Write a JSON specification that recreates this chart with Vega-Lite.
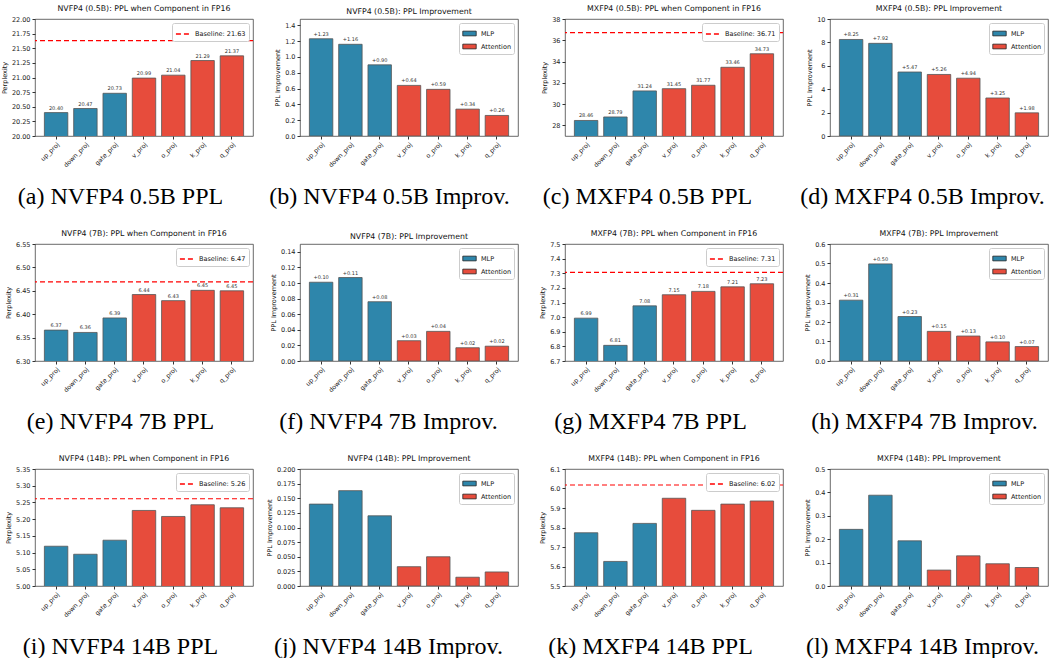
{
"$schema": "https://vega.github.io/schema/vega-lite/v6.json",
"background": "white",
"padding": {"left": 0, "top": 4, "right": 5, "bottom": 0},
"datasets": {
"bars": [
{"panel":"a","component":"up_proj","group":"MLP","value":20.40},
{"panel":"a","component":"down_proj","group":"MLP","value":20.47},
{"panel":"a","component":"gate_proj","group":"MLP","value":20.73},
{"panel":"a","component":"v_proj","group":"Attention","value":20.99},
{"panel":"a","component":"o_proj","group":"Attention","value":21.04},
{"panel":"a","component":"k_proj","group":"Attention","value":21.29},
{"panel":"a","component":"q_proj","group":"Attention","value":21.37},
{"panel":"b","component":"up_proj","group":"MLP","value":1.23},
{"panel":"b","component":"down_proj","group":"MLP","value":1.16},
{"panel":"b","component":"gate_proj","group":"MLP","value":0.90},
{"panel":"b","component":"v_proj","group":"Attention","value":0.64},
{"panel":"b","component":"o_proj","group":"Attention","value":0.59},
{"panel":"b","component":"k_proj","group":"Attention","value":0.34},
{"panel":"b","component":"q_proj","group":"Attention","value":0.26},
{"panel":"c","component":"up_proj","group":"MLP","value":28.46},
{"panel":"c","component":"down_proj","group":"MLP","value":28.79},
{"panel":"c","component":"gate_proj","group":"MLP","value":31.24},
{"panel":"c","component":"v_proj","group":"Attention","value":31.45},
{"panel":"c","component":"o_proj","group":"Attention","value":31.77},
{"panel":"c","component":"k_proj","group":"Attention","value":33.46},
{"panel":"c","component":"q_proj","group":"Attention","value":34.73},
{"panel":"d","component":"up_proj","group":"MLP","value":8.25},
{"panel":"d","component":"down_proj","group":"MLP","value":7.92},
{"panel":"d","component":"gate_proj","group":"MLP","value":5.47},
{"panel":"d","component":"v_proj","group":"Attention","value":5.26},
{"panel":"d","component":"o_proj","group":"Attention","value":4.94},
{"panel":"d","component":"k_proj","group":"Attention","value":3.25},
{"panel":"d","component":"q_proj","group":"Attention","value":1.98},
{"panel":"e","component":"up_proj","group":"MLP","value":6.366},
{"panel":"e","component":"down_proj","group":"MLP","value":6.361},
{"panel":"e","component":"gate_proj","group":"MLP","value":6.392},
{"panel":"e","component":"v_proj","group":"Attention","value":6.442},
{"panel":"e","component":"o_proj","group":"Attention","value":6.429},
{"panel":"e","component":"k_proj","group":"Attention","value":6.451},
{"panel":"e","component":"q_proj","group":"Attention","value":6.450},
{"panel":"f","component":"up_proj","group":"MLP","value":0.101},
{"panel":"f","component":"down_proj","group":"MLP","value":0.107},
{"panel":"f","component":"gate_proj","group":"MLP","value":0.076},
{"panel":"f","component":"v_proj","group":"Attention","value":0.026},
{"panel":"f","component":"o_proj","group":"Attention","value":0.038},
{"panel":"f","component":"k_proj","group":"Attention","value":0.017},
{"panel":"f","component":"q_proj","group":"Attention","value":0.019},
{"panel":"g","component":"up_proj","group":"MLP","value":6.993},
{"panel":"g","component":"down_proj","group":"MLP","value":6.807},
{"panel":"g","component":"gate_proj","group":"MLP","value":7.077},
{"panel":"g","component":"v_proj","group":"Attention","value":7.153},
{"panel":"g","component":"o_proj","group":"Attention","value":7.176},
{"panel":"g","component":"k_proj","group":"Attention","value":7.207},
{"panel":"g","component":"q_proj","group":"Attention","value":7.228},
{"panel":"h","component":"up_proj","group":"MLP","value":0.312},
{"panel":"h","component":"down_proj","group":"MLP","value":0.498},
{"panel":"h","component":"gate_proj","group":"MLP","value":0.228},
{"panel":"h","component":"v_proj","group":"Attention","value":0.152},
{"panel":"h","component":"o_proj","group":"Attention","value":0.128},
{"panel":"h","component":"k_proj","group":"Attention","value":0.098},
{"panel":"h","component":"q_proj","group":"Attention","value":0.074},
{"panel":"i","component":"up_proj","group":"MLP","value":5.119},
{"panel":"i","component":"down_proj","group":"MLP","value":5.095},
{"panel":"i","component":"gate_proj","group":"MLP","value":5.137},
{"panel":"i","component":"v_proj","group":"Attention","value":5.226},
{"panel":"i","component":"o_proj","group":"Attention","value":5.208},
{"panel":"i","component":"k_proj","group":"Attention","value":5.243},
{"panel":"i","component":"q_proj","group":"Attention","value":5.234},
{"panel":"j","component":"up_proj","group":"MLP","value":0.140},
{"panel":"j","component":"down_proj","group":"MLP","value":0.163},
{"panel":"j","component":"gate_proj","group":"MLP","value":0.120},
{"panel":"j","component":"v_proj","group":"Attention","value":0.033},
{"panel":"j","component":"o_proj","group":"Attention","value":0.050},
{"panel":"j","component":"k_proj","group":"Attention","value":0.015},
{"panel":"j","component":"q_proj","group":"Attention","value":0.024},
{"panel":"k","component":"up_proj","group":"MLP","value":5.773},
{"panel":"k","component":"down_proj","group":"MLP","value":5.626},
{"panel":"k","component":"gate_proj","group":"MLP","value":5.821},
{"panel":"k","component":"v_proj","group":"Attention","value":5.950},
{"panel":"k","component":"o_proj","group":"Attention","value":5.888},
{"panel":"k","component":"k_proj","group":"Attention","value":5.920},
{"panel":"k","component":"q_proj","group":"Attention","value":5.936},
{"panel":"l","component":"up_proj","group":"MLP","value":0.242},
{"panel":"l","component":"down_proj","group":"MLP","value":0.388},
{"panel":"l","component":"gate_proj","group":"MLP","value":0.193},
{"panel":"l","component":"v_proj","group":"Attention","value":0.068},
{"panel":"l","component":"o_proj","group":"Attention","value":0.129},
{"panel":"l","component":"k_proj","group":"Attention","value":0.095},
{"panel":"l","component":"q_proj","group":"Attention","value":0.079}
],
"base": [
{"panel":"a","value":21.63,"label":"Baseline: 21.63"},
{"panel":"c","value":36.71,"label":"Baseline: 36.71"},
{"panel":"e","value":6.469,"label":"Baseline: 6.47"},
{"panel":"g","value":7.306,"label":"Baseline: 7.31"},
{"panel":"i","value":5.261,"label":"Baseline: 5.26"},
{"panel":"k","value":6.018,"label":"Baseline: 6.02"}
]
},
"columns": 4,
"bounds": "flush",
"spacing": {"row": 108, "column": 47},
"resolve": {"scale": {"x": "independent", "y": "independent", "color": "independent", "strokeDash": "independent"}, "axis": {"x": "independent", "y": "independent"}, "legend": {"color": "independent", "strokeDash": "independent"}},
"concat": [
{"width":218,"height":117,"title":"NVFP4 (0.5B): PPL when Component in FP16",
 "encoding":{"y":{"field":"value","type":"quantitative","scale":{"domain":[20,22],"nice":false,"zero":false},"axis":{"title":"Perplexity","values":[20,20.25,20.5,20.75,21,21.25,21.5,21.75,22],"format":".2f"}}},
 "layer":[
 {"data":{"name":"bars"},"transform":[{"filter":"datum.panel==='a'"}],
  "encoding":{"x":{"field":"component","type":"nominal","scale":{"domain":["up_proj","down_proj","gate_proj","v_proj","o_proj","k_proj","q_proj"],"paddingInner":0.2,"paddingOuter":0.32},"axis":{"title":"(a) NVFP4 0.5B PPL","titleX":85}}},
  "layer":[
   {"mark":{"type":"bar","stroke":"#555","strokeWidth":0.8,"clip":true},"encoding":{"color":{"field":"group","type":"nominal","scale":{"domain":["MLP","Attention"],"range":["#2E86AB","#E74C3C"]},"legend":null}}},
   {"mark":{"type":"text","baseline":"bottom","dy":-2,"fontSize":5,"color":"#333","font":"DejaVu Sans"},"encoding":{"text":{"field":"value","format":".2f"}}}
  ]},
 {"data":{"name":"base"},"transform":[{"filter":"datum.panel==='a'"}],"mark":{"type":"rule","color":"red","strokeWidth":1.2},
  "encoding":{"strokeDash":{"field":"label","type":"nominal","scale":{"range":[[5,3]]},"legend":{"title":null,"symbolType":"stroke","symbolStrokeColor":"red","symbolStrokeWidth":1.5,"symbolSize":200}}}}
]},
{"width":218,"height":117,"title":"NVFP4 (0.5B): PPL Improvement",
 "data":{"name":"bars"},"transform":[{"filter":"datum.panel==='b'"}],
 "encoding":{"x":{"field":"component","type":"nominal","scale":{"domain":["up_proj","down_proj","gate_proj","v_proj","o_proj","k_proj","q_proj"],"paddingInner":0.2,"paddingOuter":0.32},"axis":{"title":"(b) NVFP4 0.5B Improv.","titleX":89}},
   "y":{"field":"value","type":"quantitative","scale":{"domain":[0,1.48],"nice":false},"axis":{"title":"PPL Improvement","values":[0,0.2,0.4,0.6,0.8,1.0,1.2,1.4],"format":".1f"}}},
 "layer":[
 {"mark":{"type":"bar","stroke":"#555","strokeWidth":0.8,"clip":true},
  "encoding":{"color":{"field":"group","type":"nominal","scale":{"domain":["MLP","Attention"],"range":["#2E86AB","#E74C3C"]},"legend":{"title":null,"symbolType":"M-1,-0.35H1V0.35H-1Z","symbolSize":180,"symbolStrokeColor":"#222","symbolStrokeWidth":0.8}}}},
 {"mark":{"type":"text","baseline":"bottom","dy":-2,"fontSize":5,"color":"#333","font":"DejaVu Sans"},"encoding":{"text":{"field":"value","format":"+.2f"}}}
]},
{"width":218,"height":117,"title":"MXFP4 (0.5B): PPL when Component in FP16",
 "encoding":{"y":{"field":"value","type":"quantitative","scale":{"domain":[27,38],"nice":false,"zero":false},"axis":{"title":"Perplexity","values":[28,30,32,34,36,38],"format":"d"}}},
 "layer":[
 {"data":{"name":"bars"},"transform":[{"filter":"datum.panel==='c'"}],
  "encoding":{"x":{"field":"component","type":"nominal","scale":{"domain":["up_proj","down_proj","gate_proj","v_proj","o_proj","k_proj","q_proj"],"paddingInner":0.2,"paddingOuter":0.32},"axis":{"title":"(c) MXFP4 0.5B PPL","titleX":82}}},
  "layer":[
   {"mark":{"type":"bar","stroke":"#555","strokeWidth":0.8,"clip":true},"encoding":{"color":{"field":"group","type":"nominal","scale":{"domain":["MLP","Attention"],"range":["#2E86AB","#E74C3C"]},"legend":null}}},
   {"mark":{"type":"text","baseline":"bottom","dy":-2,"fontSize":5,"color":"#333","font":"DejaVu Sans"},"encoding":{"text":{"field":"value","format":".2f"}}}
  ]},
 {"data":{"name":"base"},"transform":[{"filter":"datum.panel==='c'"}],"mark":{"type":"rule","color":"red","strokeWidth":1.2},
  "encoding":{"strokeDash":{"field":"label","type":"nominal","scale":{"range":[[5,3]]},"legend":{"title":null,"symbolType":"stroke","symbolStrokeColor":"red","symbolStrokeWidth":1.5,"symbolSize":200}}}}
]},
{"width":218,"height":117,"title":"MXFP4 (0.5B): PPL Improvement",
 "data":{"name":"bars"},"transform":[{"filter":"datum.panel==='d'"}],
 "encoding":{"x":{"field":"component","type":"nominal","scale":{"domain":["up_proj","down_proj","gate_proj","v_proj","o_proj","k_proj","q_proj"],"paddingInner":0.2,"paddingOuter":0.32},"axis":{"title":"(d) MXFP4 0.5B Improv.","titleX":92}},
   "y":{"field":"value","type":"quantitative","scale":{"domain":[0,10],"nice":false},"axis":{"title":"PPL Improvement","values":[0,2,4,6,8,10],"format":"d"}}},
 "layer":[
 {"mark":{"type":"bar","stroke":"#555","strokeWidth":0.8,"clip":true},
  "encoding":{"color":{"field":"group","type":"nominal","scale":{"domain":["MLP","Attention"],"range":["#2E86AB","#E74C3C"]},"legend":{"title":null,"symbolType":"M-1,-0.35H1V0.35H-1Z","symbolSize":180,"symbolStrokeColor":"#222","symbolStrokeWidth":0.8}}}},
 {"mark":{"type":"text","baseline":"bottom","dy":-2,"fontSize":5,"color":"#333","font":"DejaVu Sans"},"encoding":{"text":{"field":"value","format":"+.2f"}}}
]},
{"width":218,"height":117,"title":"NVFP4 (7B): PPL when Component in FP16",
 "encoding":{"y":{"field":"value","type":"quantitative","scale":{"domain":[6.3,6.55],"nice":false,"zero":false},"axis":{"title":"Perplexity","values":[6.3,6.35,6.4,6.45,6.5,6.55],"format":".2f"}}},
 "layer":[
 {"data":{"name":"bars"},"transform":[{"filter":"datum.panel==='e'"}],
  "encoding":{"x":{"field":"component","type":"nominal","scale":{"domain":["up_proj","down_proj","gate_proj","v_proj","o_proj","k_proj","q_proj"],"paddingInner":0.2,"paddingOuter":0.32},"axis":{"title":"(e) NVFP4 7B PPL","titleX":85}}},
  "layer":[
   {"mark":{"type":"bar","stroke":"#555","strokeWidth":0.8,"clip":true},"encoding":{"color":{"field":"group","type":"nominal","scale":{"domain":["MLP","Attention"],"range":["#2E86AB","#E74C3C"]},"legend":null}}},
   {"mark":{"type":"text","baseline":"bottom","dy":-2,"fontSize":5,"color":"#333","font":"DejaVu Sans"},"encoding":{"text":{"field":"value","format":".2f"}}}
  ]},
 {"data":{"name":"base"},"transform":[{"filter":"datum.panel==='e'"}],"mark":{"type":"rule","color":"red","strokeWidth":1.2},
  "encoding":{"strokeDash":{"field":"label","type":"nominal","scale":{"range":[[5,3]]},"legend":{"title":null,"symbolType":"stroke","symbolStrokeColor":"red","symbolStrokeWidth":1.5,"symbolSize":200}}}}
]},
{"width":218,"height":117,"title":"NVFP4 (7B): PPL Improvement",
 "data":{"name":"bars"},"transform":[{"filter":"datum.panel==='f'"}],
 "encoding":{"x":{"field":"component","type":"nominal","scale":{"domain":["up_proj","down_proj","gate_proj","v_proj","o_proj","k_proj","q_proj"],"paddingInner":0.2,"paddingOuter":0.32},"axis":{"title":"(f) NVFP4 7B Improv.","titleX":88}},
   "y":{"field":"value","type":"quantitative","scale":{"domain":[0,0.15],"nice":false},"axis":{"title":"PPL Improvement","values":[0,0.02,0.04,0.06,0.08,0.1,0.12,0.14],"format":".2f"}}},
 "layer":[
 {"mark":{"type":"bar","stroke":"#555","strokeWidth":0.8,"clip":true},
  "encoding":{"color":{"field":"group","type":"nominal","scale":{"domain":["MLP","Attention"],"range":["#2E86AB","#E74C3C"]},"legend":{"title":null,"symbolType":"M-1,-0.35H1V0.35H-1Z","symbolSize":180,"symbolStrokeColor":"#222","symbolStrokeWidth":0.8}}}},
 {"mark":{"type":"text","baseline":"bottom","dy":-2,"fontSize":5,"color":"#333","font":"DejaVu Sans"},"encoding":{"text":{"field":"value","format":"+.2f"}}}
]},
{"width":218,"height":117,"title":"MXFP4 (7B): PPL when Component in FP16",
 "encoding":{"y":{"field":"value","type":"quantitative","scale":{"domain":[6.7,7.5],"nice":false,"zero":false},"axis":{"title":"Perplexity","values":[6.7,6.8,6.9,7.0,7.1,7.2,7.3,7.4,7.5],"format":".1f"}}},
 "layer":[
 {"data":{"name":"bars"},"transform":[{"filter":"datum.panel==='g'"}],
  "encoding":{"x":{"field":"component","type":"nominal","scale":{"domain":["up_proj","down_proj","gate_proj","v_proj","o_proj","k_proj","q_proj"],"paddingInner":0.2,"paddingOuter":0.32},"axis":{"title":"(g) MXFP4 7B PPL","titleX":85}}},
  "layer":[
   {"mark":{"type":"bar","stroke":"#555","strokeWidth":0.8,"clip":true},"encoding":{"color":{"field":"group","type":"nominal","scale":{"domain":["MLP","Attention"],"range":["#2E86AB","#E74C3C"]},"legend":null}}},
   {"mark":{"type":"text","baseline":"bottom","dy":-2,"fontSize":5,"color":"#333","font":"DejaVu Sans"},"encoding":{"text":{"field":"value","format":".2f"}}}
  ]},
 {"data":{"name":"base"},"transform":[{"filter":"datum.panel==='g'"}],"mark":{"type":"rule","color":"red","strokeWidth":1.2},
  "encoding":{"strokeDash":{"field":"label","type":"nominal","scale":{"range":[[5,3]]},"legend":{"title":null,"symbolType":"stroke","symbolStrokeColor":"red","symbolStrokeWidth":1.5,"symbolSize":200}}}}
]},
{"width":218,"height":117,"title":"MXFP4 (7B): PPL Improvement",
 "data":{"name":"bars"},"transform":[{"filter":"datum.panel==='h'"}],
 "encoding":{"x":{"field":"component","type":"nominal","scale":{"domain":["up_proj","down_proj","gate_proj","v_proj","o_proj","k_proj","q_proj"],"paddingInner":0.2,"paddingOuter":0.32},"axis":{"title":"(h) MXFP4 7B Improv.","titleX":94}},
   "y":{"field":"value","type":"quantitative","scale":{"domain":[0,0.6],"nice":false},"axis":{"title":"PPL Improvement","values":[0,0.1,0.2,0.3,0.4,0.5,0.6],"format":".1f"}}},
 "layer":[
 {"mark":{"type":"bar","stroke":"#555","strokeWidth":0.8,"clip":true},
  "encoding":{"color":{"field":"group","type":"nominal","scale":{"domain":["MLP","Attention"],"range":["#2E86AB","#E74C3C"]},"legend":{"title":null,"symbolType":"M-1,-0.35H1V0.35H-1Z","symbolSize":180,"symbolStrokeColor":"#222","symbolStrokeWidth":0.8}}}},
 {"mark":{"type":"text","baseline":"bottom","dy":-2,"fontSize":5,"color":"#333","font":"DejaVu Sans"},"encoding":{"text":{"field":"value","format":"+.2f"}}}
]},
{"width":218,"height":117,"title":"NVFP4 (14B): PPL when Component in FP16",
 "encoding":{"y":{"field":"value","type":"quantitative","scale":{"domain":[5.0,5.35],"nice":false,"zero":false},"axis":{"title":"Perplexity","values":[5.0,5.05,5.1,5.15,5.2,5.25,5.3,5.35],"format":".2f"}}},
 "layer":[
 {"data":{"name":"bars"},"transform":[{"filter":"datum.panel==='i'"}],"mark":{"type":"bar","stroke":"#555","strokeWidth":0.8,"clip":true},
  "encoding":{"x":{"field":"component","type":"nominal","scale":{"domain":["up_proj","down_proj","gate_proj","v_proj","o_proj","k_proj","q_proj"],"paddingInner":0.2,"paddingOuter":0.32},"axis":{"title":"(i) NVFP4 14B PPL","titleX":85}},
   "color":{"field":"group","type":"nominal","scale":{"domain":["MLP","Attention"],"range":["#2E86AB","#E74C3C"]},"legend":null}}},
 {"data":{"name":"base"},"transform":[{"filter":"datum.panel==='i'"}],"mark":{"type":"rule","color":"red","strokeWidth":1.2},
  "encoding":{"strokeDash":{"field":"label","type":"nominal","scale":{"range":[[5,3]]},"legend":{"title":null,"symbolType":"stroke","symbolStrokeColor":"red","symbolStrokeWidth":1.5,"symbolSize":200}}}}
]},
{"width":218,"height":117,"title":"NVFP4 (14B): PPL Improvement",
 "data":{"name":"bars"},"transform":[{"filter":"datum.panel==='j'"}],
 "mark":{"type":"bar","stroke":"#555","strokeWidth":0.8,"clip":true},
 "encoding":{"x":{"field":"component","type":"nominal","scale":{"domain":["up_proj","down_proj","gate_proj","v_proj","o_proj","k_proj","q_proj"],"paddingInner":0.2,"paddingOuter":0.32},"axis":{"title":"(j) NVFP4 14B Improv.","titleX":88}},
   "y":{"field":"value","type":"quantitative","scale":{"domain":[0,0.2],"nice":false},"axis":{"title":"PPL Improvement","values":[0,0.025,0.05,0.075,0.1,0.125,0.15,0.175,0.2],"format":".3f"}},
   "color":{"field":"group","type":"nominal","scale":{"domain":["MLP","Attention"],"range":["#2E86AB","#E74C3C"]},"legend":{"title":null,"symbolType":"M-1,-0.35H1V0.35H-1Z","symbolSize":180,"symbolStrokeColor":"#222","symbolStrokeWidth":0.8}}}
},
{"width":218,"height":117,"title":"MXFP4 (14B): PPL when Component in FP16",
 "encoding":{"y":{"field":"value","type":"quantitative","scale":{"domain":[5.5,6.1],"nice":false,"zero":false},"axis":{"title":"Perplexity","values":[5.5,5.6,5.7,5.8,5.9,6.0,6.1],"format":".1f"}}},
 "layer":[
 {"data":{"name":"bars"},"transform":[{"filter":"datum.panel==='k'"}],"mark":{"type":"bar","stroke":"#555","strokeWidth":0.8,"clip":true},
  "encoding":{"x":{"field":"component","type":"nominal","scale":{"domain":["up_proj","down_proj","gate_proj","v_proj","o_proj","k_proj","q_proj"],"paddingInner":0.2,"paddingOuter":0.32},"axis":{"title":"(k) MXFP4 14B PPL","titleX":85}},
   "color":{"field":"group","type":"nominal","scale":{"domain":["MLP","Attention"],"range":["#2E86AB","#E74C3C"]},"legend":null}}},
 {"data":{"name":"base"},"transform":[{"filter":"datum.panel==='k'"}],"mark":{"type":"rule","color":"red","strokeWidth":1.2},
  "encoding":{"strokeDash":{"field":"label","type":"nominal","scale":{"range":[[5,3]]},"legend":{"title":null,"symbolType":"stroke","symbolStrokeColor":"red","symbolStrokeWidth":1.5,"symbolSize":200}}}}
]},
{"width":218,"height":117,"title":"MXFP4 (14B): PPL Improvement",
 "data":{"name":"bars"},"transform":[{"filter":"datum.panel==='l'"}],
 "mark":{"type":"bar","stroke":"#555","strokeWidth":0.8,"clip":true},
 "encoding":{"x":{"field":"component","type":"nominal","scale":{"domain":["up_proj","down_proj","gate_proj","v_proj","o_proj","k_proj","q_proj"],"paddingInner":0.2,"paddingOuter":0.32},"axis":{"title":"(l) MXFP4 14B Improv.","titleX":92}},
   "y":{"field":"value","type":"quantitative","scale":{"domain":[0,0.5],"nice":false},"axis":{"title":"PPL Improvement","values":[0,0.1,0.2,0.3,0.4,0.5],"format":".1f"}},
   "color":{"field":"group","type":"nominal","scale":{"domain":["MLP","Attention"],"range":["#2E86AB","#E74C3C"]},"legend":{"title":null,"symbolType":"M-1,-0.35H1V0.35H-1Z","symbolSize":180,"symbolStrokeColor":"#222","symbolStrokeWidth":0.8}}}
}
],
"config": {
"font": "DejaVu Sans",
"view": {"stroke": "#444", "strokeWidth": 0.8},
"title": {"font": "DejaVu Sans", "fontSize": 7.8, "fontWeight": "normal", "color": "#111", "offset": 3},
"axis": {"labelFont": "DejaVu Sans", "labelFontSize": 6.5, "labelColor": "#222", "titleFont": "DejaVu Sans", "titleFontSize": 6.5, "titleFontWeight": "normal", "titleColor": "#111", "grid": false, "domain": false, "tickColor": "#333", "tickSize": 3, "titlePadding": 4, "labelPadding": 2},
"axisX": {"labelAngle": -45, "labelAlign": "right", "labelBaseline": "top", "labelFontSize": 6.3, "titleFont": "Liberation Serif", "titleFontSize": 24, "titleColor": "#000", "titleBaseline": "middle", "titleAlign": "center", "titleY": 60},
"legend": {"orient": "top-right", "offset": 4, "fillColor": "white", "strokeColor": "#ccc", "padding": 3, "cornerRadius": 2, "labelFont": "DejaVu Sans", "labelFontSize": 6.5, "labelColor": "#111", "rowPadding": 1, "labelOffset": 4}
}
}
